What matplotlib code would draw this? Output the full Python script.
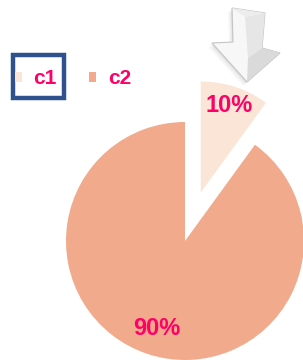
import matplotlib
matplotlib.use("Agg")
import matplotlib.pyplot as plt
from matplotlib.patches import Polygon, Rectangle

labels = ["c1", "c2"]
values = [10, 90]
colors = ["#FBE5D6", "#F1AA8C"]
label_color = "#FF0066"

plt.rcParams['font.family'] = ['Liberation Sans', 'DejaVu Sans']

W, H = 303, 360
fig = plt.figure(figsize=(W / 100, H / 100), dpi=100)
ax = fig.add_axes([0, 0, 1, 1])


def py(y):
    # pixel row (from top) -> data y (from bottom)
    return H - y


# pie: first slice pulled out towards the arrow (explode is in data units)
radius = 119
wedges, texts, autotexts = ax.pie(
    values, colors=colors, startangle=90, counterclock=False,
    explode=[51, 0], radius=radius, center=(185, py(241)),
    autopct="%d%%", pctdistance=0.77,
    textprops=dict(color=label_color, fontsize=17, fontweight="bold"),
    wedgeprops=dict(linewidth=0), frame=True)
wedges[0].set_radius(111)
ax.set_xlim(0, W)
ax.set_ylim(0, H)
ax.set_aspect("equal")
ax.axis("off")

# legend
leg = ax.legend(wedges, labels, loc="center left",
                bbox_to_anchor=(-2 / W, py(79) / H), ncol=2, frameon=False,
                handlelength=0.35, handleheight=0.35, handletextpad=0.55,
                columnspacing=1.55, borderpad=0.3,
                prop=dict(size=15, weight="bold"))
for t in leg.get_texts():
    t.set_color(label_color)

# selection box around the c1 entry
ax.add_patch(Rectangle((13, py(98)), 51, 43, fill=False,
                       edgecolor="#2F528F", linewidth=3.2))

# 3d-ish arrow pointing at the small slice
arrow = [(232, 8), (265, 13), (262, 48), (280, 53), (247, 82), (212, 43), (233, 42)]
for k, a in [(4, 0.06), (2.5, 0.08), (1.2, 0.1)]:
    ax.add_patch(Polygon([(x - k, py(y + k)) for x, y in arrow],
                         closed=True, facecolor="#808080", edgecolor="none",
                         alpha=a))
ax.add_patch(Polygon([(x, py(y)) for x, y in arrow], closed=True,
                     facecolor="#F7F7F7", edgecolor="#C4C4C4", linewidth=0.8))
ax.add_patch(Polygon([(x, py(y)) for x, y in
                      [(245, 17), (265, 13), (262, 48), (248, 58)]],
                     closed=True, facecolor="#E6E6E6", edgecolor="none"))
ax.add_patch(Polygon([(x, py(y)) for x, y in
                      [(248, 58), (262, 48), (280, 53), (247, 82)]],
                     closed=True, facecolor="#DADADA", edgecolor="none"))
ax.add_patch(Polygon([(x, py(y)) for x, y in
                      [(232, 8), (265, 13), (245, 17)]],
                     closed=True, facecolor="#EDEDED", edgecolor="none"))

fig.savefig("out.png", dpi=100)
